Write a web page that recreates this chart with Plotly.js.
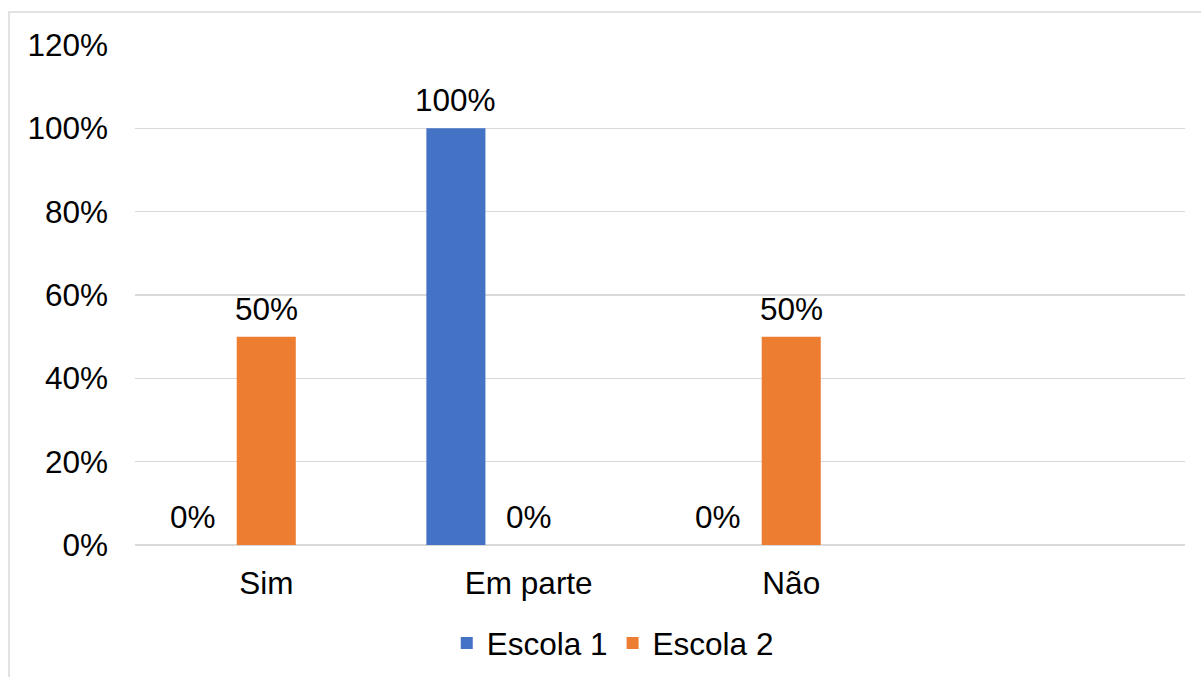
<!DOCTYPE html>
<html>
<head>
<meta charset="utf-8">
<script src="https://cdn.plot.ly/plotly-3.0.1.min.js"></script>
<style>html,body{margin:0;padding:0;background:#fff;}#chart{width:1201px;height:677px;}</style>
</head>
<body>
<div id="chart"></div>
<script>
var categories = ["Sim", "Em parte", "Não"];
var escola1 = [0, 1.0, 0];
var escola2 = [0.5, 0, 0.5];
var seriesNames = ["Escola 1", "Escola 2"];
var yTicks = [0, 0.2, 0.4, 0.6, 0.8, 1.0, 1.2];

var catIdx = categories.map(function(_, i){ return i; });
var barW = 0.225;
var offsets = [-0.39, -0.1125];
var colors = ["#4472C4", "#ED7D31"];
var series = [escola1, escola2];
var FONT = "Liberation Sans, Arial, sans-serif";
var FS = 31.5;

var traces = series.map(function(vals, s){
  return {
    type: "bar",
    name: seriesNames[s],
    x: catIdx,
    y: vals,
    width: barW,
    offset: offsets[s],
    marker: {color: colors[s]},
    hoverinfo: "y"
  };
});

var annotations = [];
series.forEach(function(vals, s){
  vals.forEach(function(v, i){
    annotations.push({
      x: i + offsets[s] + barW/2, y: v, xref: "x", yref: "y",
      text: Math.round(v*100) + "%", showarrow: false,
      yshift: 28, font: {family: FONT, size: FS, color: "#000"}
    });
  });
});

var layout = {
  width: 1201, height: 677,
  margin: {l: 135, r: 16, t: 45, b: 132, autoexpand: false},
  paper_bgcolor: "#fff", plot_bgcolor: "#fff",
  font: {family: FONT, size: FS, color: "#000"},
  barmode: "overlay",
  showlegend: true,
  legend: {orientation: "h", x: 0.455, xanchor: "center", y: -0.196, yanchor: "middle",
           font: {size: FS}, traceorder: "normal"},
  xaxis: {range: [-0.5, 3.5], tickvals: catIdx, ticktext: categories, automargin: false,
          showgrid: false, zeroline: false, showline: false, ticks: "", ticklabelstandoff: 16,
          tickfont: {size: FS}},
  yaxis: {range: [0, 1.2], tickvals: yTicks, tickformat: ".0%", showgrid: true, automargin: false,
          gridcolor: "#d9d9d9", gridwidth: 1.5, zeroline: true, zerolinecolor: "#d9d9d9",
          zerolinewidth: 1.5, showline: false, ticks: "", ticklabelstandoff: 26, tickfont: {size: FS}},
  annotations: annotations,
  shapes: [{type: "rect", xref: "paper", yref: "paper", x0: -0.12, x1: 1.2, y0: -0.4, y1: 1.066,
            line: {color: "#d9d9d9", width: 1.5}, fillcolor: "rgba(0,0,0,0)", layer: "below"}]
};

Plotly.newPlot("chart", traces, layout, {displayModeBar: false, staticPlot: true});
</script>
</body>
</html>
